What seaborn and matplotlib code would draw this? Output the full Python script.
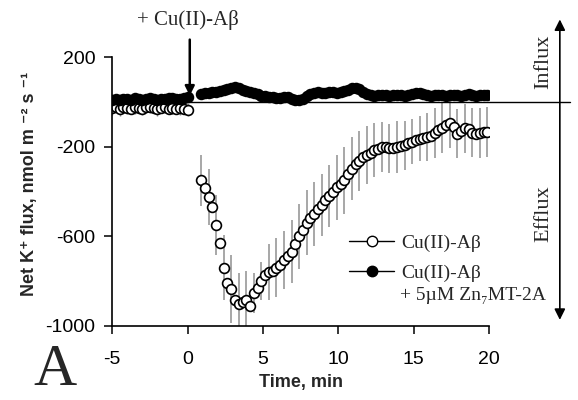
import numpy as np
import matplotlib
matplotlib.use('Agg')
import matplotlib.pyplot as plt
from matplotlib.lines import Line2D
import seaborn as sns

# Time axis, min (one reading every 0.25 min)
t_pre = np.arange(-5.0, 0.01, 0.25)
t_post = np.arange(0.9, 20.0, 0.25)

# Cu(II)-Abeta alone (open circles), nmol m-2 s-1
flux_ab_pre = [-28, -25, -30, -22, -27, -32, -24, -26, -30, -25, -22,
               -28, -30, -26, -24, -30, -28, -32, -27, -30, -35]
err_ab_pre = [30, 25, 35, 30, 28, 32, 30, 25, 30, 35, 28,
              30, 32, 30, 25, 30, 28, 32, 30, 28, 30]
flux_ab_post = [-350, -385, -423, -470, -550, -630, -740, -810, -835, -885,
                -900, -895, -884, -910, -853, -830, -798, -772, -758, -755,
                -740, -728, -705, -688, -668, -632, -600, -570, -540, -518,
                -500, -478, -460, -440, -420, -400, -380, -365, -350, -320,
                -298, -278, -264, -248, -238, -228, -216, -210, -202, -200,
                -208, -206, -202, -198, -194, -185, -178, -170, -164, -160,
                -157, -152, -140, -126, -116, -102, -96, -112, -142, -132,
                -118, -122, -138, -142, -138, -135, -133]
err_ab_post = [115, 120, 125, 130, 135, 140, 145, 148, 150, 145,
               138, 132, 128, 110, 88, 85, 85, 100, 125, 128,
               132, 133, 130, 135, 140, 142, 145, 145, 145, 145,
               142, 140, 140, 140, 138, 140, 145, 148, 150, 145,
               140, 138, 135, 130, 128, 125, 120, 115, 110, 108,
               108, 110, 115, 112, 108, 104, 100, 100, 102, 105,
               108, 110, 112, 112, 111, 110, 110, 108, 108, 108,
               110, 110, 110, 111, 111, 111, 111]

# Cu(II)-Abeta + 5uM Zn7MT-2A (filled circles)
flux_mt_pre = [10, 12, 8, 14, 12, 10, 15, 12, 9, 13, 16,
               12, 10, 14, 12, 15, 18, 14, 12, 16, 20]
flux_mt_post = [35, 38, 40, 42, 45, 48, 52, 58, 63, 65,
                60, 55, 50, 46, 40, 35, 28, 24, 22, 20,
                18, 17, 22, 20, 12, 8, 6, 14, 25, 35,
                40, 42, 38, 40, 44, 42, 40, 45, 50, 55,
                60, 62, 58, 45, 35, 30, 28, 30, 32, 30,
                28, 30, 32, 30, 28, 30, 34, 38, 40, 35,
                30, 28, 30, 32, 30, 28, 30, 32, 30, 28,
                32, 35, 30, 28, 30, 32, 30]

x_ticks = [-5, 0, 5, 10, 15, 20]
y_ticks = [200, -200, -600, -1000]

sns.set_style('ticks')
SANS = ['Liberation Sans', 'DejaVu Sans']
SERIF = ['Liberation Serif', 'DejaVu Serif']
plt.rcParams['font.family'] = SANS
plt.rcParams['axes.unicode_minus'] = False

fig = plt.figure(figsize=(5.78, 4.0), dpi=100)
ax = fig.add_axes([0.194, 0.185, 0.652, 0.6725])

# error bars first so markers sit on top
ax.errorbar(t_pre, flux_ab_pre, yerr=err_ab_pre, fmt='none', ecolor='#8c8c8c',
            elinewidth=1.0, errorevery=(0, 2), zorder=1)
ax.errorbar(t_post, flux_ab_post, yerr=err_ab_post, fmt='none', ecolor='#a0a0a0',
            elinewidth=1.3, errorevery=(0, 2), zorder=1)

open_kw = dict(marker='o', s=50, color='white', edgecolor='black', linewidth=1.2)
fill_kw = dict(marker='o', s=50, color='black', edgecolor='black', linewidth=1.2)
sns.scatterplot(x=t_pre, y=flux_ab_pre, ax=ax, zorder=2, **open_kw)
sns.scatterplot(x=t_pre, y=flux_mt_pre, ax=ax, zorder=3, **fill_kw)
sns.scatterplot(x=t_post, y=flux_mt_post, ax=ax, zorder=3, **fill_kw)
sns.scatterplot(x=t_post, y=flux_ab_post, ax=ax, zorder=4, **open_kw)

# zero line running out to the influx/efflux arrow
ax.plot([0.1, 25.4], [0, 0], color='black', lw=1.0, clip_on=False, zorder=1)

ax.set_xlim(-5, 20)
ax.set_ylim(-1000, 200)
ax.set_xticks(x_ticks)
ax.set_yticks(y_ticks)
ax.tick_params(axis='both', direction='out', length=6, width=1.1,
               labelsize=14, colors='black')
ax.tick_params(axis='x', pad=12)
ax.tick_params(axis='y', pad=6)
sns.despine(ax=ax)
for s in ['left', 'bottom']:
    ax.spines[s].set_linewidth(1.2)
    ax.spines[s].set_color('black')

ax.set_xlabel('Time, min', fontsize=13, fontweight='bold', labelpad=4)
ax.set_ylabel('Net K\u207a flux, nmol m \u207b\u00b2 s \u207b\u00b9', fontsize=13,
              fontweight='bold', family=SANS)
ax.yaxis.set_label_coords(-0.197, 0.53)

# addition marker
ax.annotate('', xy=(0.15, 15), xytext=(0.15, 290),
            arrowprops=dict(arrowstyle='-|>', lw=1.8, color='black', mutation_scale=14),
            annotation_clip=False)
ax.text(0.0, 365, '+ Cu(II)-A\u03b2', ha='center', va='center', fontsize=15,
        family=SERIF, clip_on=False)

# influx / efflux arrow on the right
ax.annotate('', xy=(24.7, 380), xytext=(24.7, -985),
            arrowprops=dict(arrowstyle='<|-|>', lw=1.2, color='black', mutation_scale=16),
            annotation_clip=False)
ax.text(23.65, 178, 'Influx', rotation=90, ha='center', va='center', fontsize=16,
        family=SERIF, clip_on=False)
ax.text(23.65, -500, 'Efflux', rotation=90, ha='center', va='center', fontsize=16,
        family=SERIF, clip_on=False)

# legend (second entry wraps onto a third line)
handles = [
    Line2D([0], [0], color='black', lw=1.0, marker='o', markersize=7.5,
           markerfacecolor='white', markeredgecolor='black'),
    Line2D([0], [0], color='black', lw=1.0, marker='o', markersize=7.5,
           markerfacecolor='black', markeredgecolor='black'),
]
labels = ['Cu(II)-A\u03b2', 'Cu(II)-A\u03b2']
ax.legend(handles, labels, loc='upper left', bbox_to_anchor=(0.629, 0.34),
          frameon=False, borderpad=0, borderaxespad=0, handlelength=2.3,
          handletextpad=0.36, labelspacing=0.6,
          prop={'family': SERIF, 'size': 14})
ax.text(0.764, 0.112, '+ 5\u00b5M Zn\u2087MT-2A', transform=ax.transAxes,
        ha='left', va='center', fontsize=14, family=SERIF)

fig.text(0.057, 0.004, 'A', fontsize=43, family=SERIF, ha='left', va='bottom')

fig.savefig('out.png', dpi=100)
